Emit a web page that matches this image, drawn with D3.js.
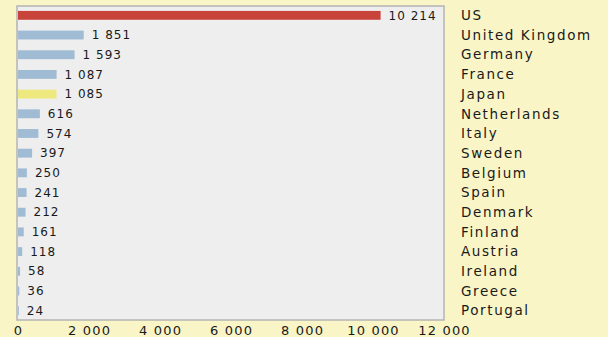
<!DOCTYPE html>
<html><head><meta charset="utf-8">
<script src="https://cdn.jsdelivr.net/npm/d3@7"></script>
<style>
html,body{margin:0;padding:0;background:#f9f5c7;}
svg{display:block;}
text{font-family:"DejaVu Sans",sans-serif;fill:#1a1a1a;}
</style></head>
<body>
<script>
const categories = ["US","United Kingdom","Germany","France","Japan","Netherlands","Italy","Sweden","Belgium","Spain","Denmark","Finland","Austria","Ireland","Greece","Portugal"];
const values = [10214,1851,1593,1087,1085,616,574,397,250,241,212,161,118,58,36,24];
const colors = ["#c8443a","#a0bbd4","#a0bbd4","#a0bbd4","#eee97f","#a0bbd4","#a0bbd4","#a0bbd4","#a0bbd4","#a0bbd4","#a0bbd4","#a0bbd4","#a0bbd4","#a0bbd4","#a0bbd4","#a0bbd4"];
const xTicks = [0,2000,4000,6000,8000,10000,12000];

const W=608,H=337;
const m={left:17,right:444,top:6,bottom:320};
const svg=d3.select("body").append("svg").attr("width",W).attr("height",H);
const x=d3.scaleLinear().domain([0,12000]).range([m.left+1,m.right]);
const y=d3.scaleBand().domain(categories).range([m.top,m.bottom]).paddingInner(0.55).paddingOuter(0.25);
const fmt=v=>d3.format(",")(v).replace(/,/g," ");

svg.append("rect").attr("x",m.left).attr("y",m.top).attr("width",m.right-m.left).attr("height",m.bottom-m.top)
  .attr("fill","#eeeeee").attr("stroke","#b4b4b4").attr("stroke-width",1.5);

svg.selectAll(".bar").data(values).enter().append("rect")
  .attr("x",x(0)).attr("y",(d,i)=>y(categories[i]))
  .attr("width",d=>x(d)-x(0)).attr("height",y.bandwidth())
  .attr("fill",(d,i)=>colors[i]);

svg.selectAll(".val").data(values).enter().append("text")
  .attr("x",d=>x(d)+8).attr("y",(d,i)=>y(categories[i])+y.bandwidth()/2)
  .attr("dy","0.35em").attr("font-size",12).attr("letter-spacing","1")
  .text(d=>fmt(d));

svg.selectAll(".cat").data(categories).enter().append("text")
  .attr("x",461).attr("y",d=>y(d)+y.bandwidth()/2)
  .attr("dy","0.35em").attr("font-size",13.5).attr("letter-spacing","1.6")
  .text(d=>d);

const ax=d3.axisBottom(x).tickValues(xTicks).tickSize(0).tickFormat(fmt);
const g=svg.append("g").attr("transform",`translate(0,${m.bottom})`).call(ax);
g.select(".domain").remove();
g.selectAll("text").attr("font-size",13).attr("dy","0.95em").attr("letter-spacing","1.2").style("font-family","DejaVu Sans").attr("fill","#1a1a1a");
</script>
</body></html>
